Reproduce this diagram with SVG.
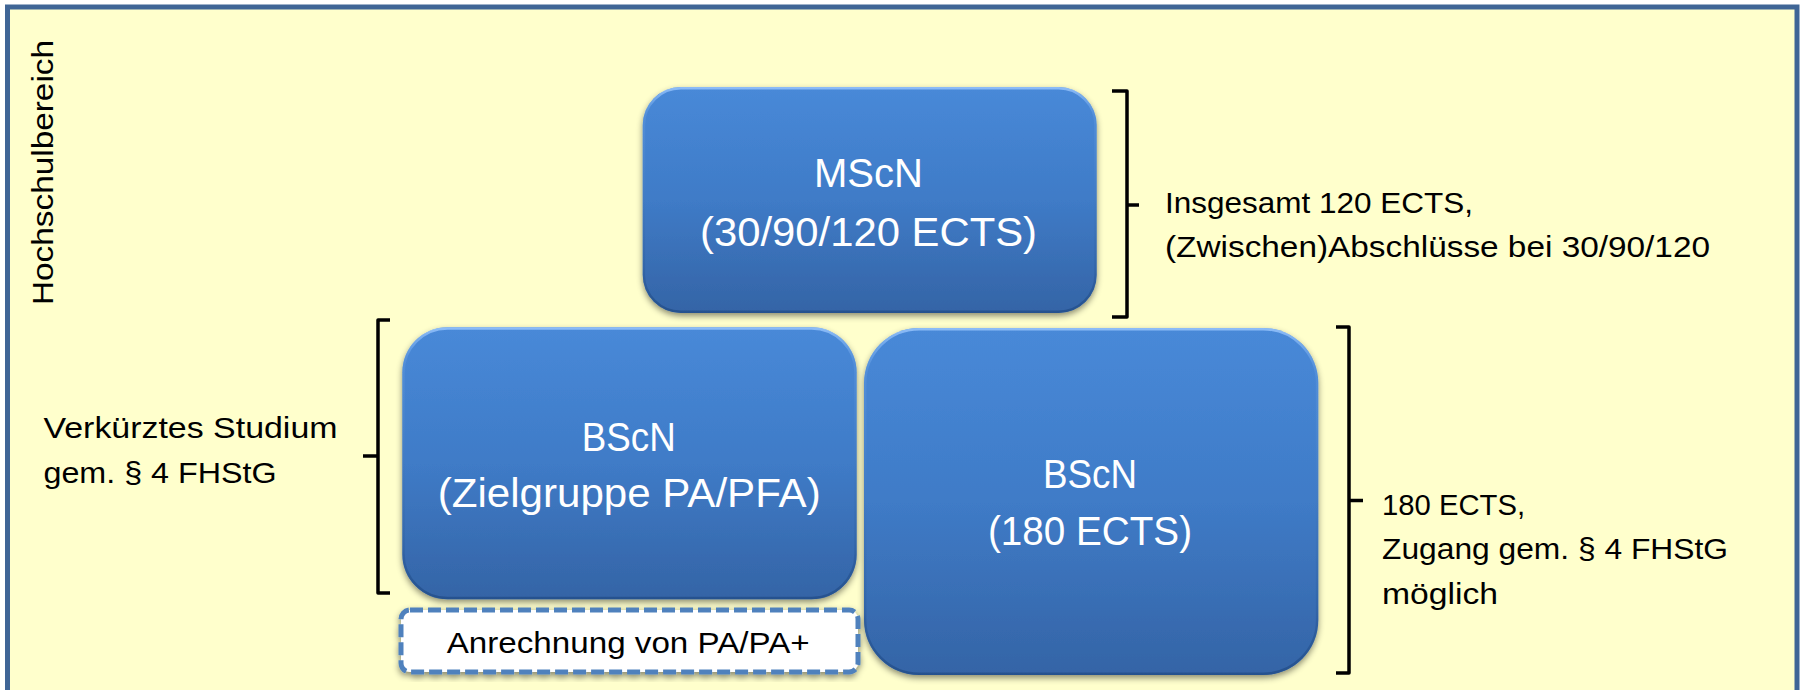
<svg xmlns="http://www.w3.org/2000/svg" width="1803" height="690" viewBox="0 0 1803 690">
  <defs>
    <linearGradient id="boxFill" x1="0" y1="0" x2="0" y2="1">
      <stop offset="0" stop-color="#4889D8"/>
      <stop offset="0.5" stop-color="#3F7BC7"/>
      <stop offset="1" stop-color="#3464A6"/>
    </linearGradient>
    <linearGradient id="bevel" x1="0" y1="0" x2="0" y2="1">
      <stop offset="0" stop-color="#9CC8FF" stop-opacity="0.8"/>
      <stop offset="0.12" stop-color="#7FB2F0" stop-opacity="0.2"/>
      <stop offset="0.8" stop-color="#1F4A85" stop-opacity="0.2"/>
      <stop offset="1" stop-color="#1F4A85" stop-opacity="0.7"/>
    </linearGradient>
    <filter id="shadow" x="-10%" y="-10%" width="120%" height="125%">
      <feDropShadow dx="0" dy="3" stdDeviation="3" flood-color="#000" flood-opacity="0.45"/>
    </filter>
    <style>
      .frame { fill: #FFFFCC; stroke: #3F6596; stroke-width: 5; }
      .box { fill: url(#boxFill); filter: url(#shadow); }
      .bev { fill: none; stroke: url(#bevel); stroke-width: 2.5; }
      .dash { fill: #FFFFFF; stroke: #4F81BD; stroke-width: 5; stroke-dasharray: 13 5; filter: url(#shadow); }
      .bt { font-family: "Liberation Sans", Arial, sans-serif; font-size: 40px; fill: #FFFFFF; }
      .st { font-family: "Liberation Sans", Arial, sans-serif; font-size: 29px; fill: #000000; }
      .lt { font-family: "Liberation Sans", Arial, sans-serif; font-size: 30px; fill: #000000; }
      .br { fill: none; stroke: #000000; stroke-width: 3.5; stroke-linejoin: round; }
    </style>
  </defs>

  <rect class="frame" x="7.5" y="7" width="1789.5" height="700"/>

  <text class="st" font-size="33" transform="translate(53,305) rotate(-90)" x="0" y="0" textLength="265" lengthAdjust="spacingAndGlyphs">Hochschulbereich</text>

  <g id="connectors">
    <path class="br" d="M1112,91 H1127 V317 H1112 M1127,205 H1139"/>
    <path class="br" d="M390,320 H378 V593 H390 M378,456 H363"/>
    <path class="br" d="M1336,327 H1349 V673 H1336 M1349,500.5 H1363"/>
  </g>

  <g id="node-mscn">
    <rect class="box" x="642.7" y="87" width="454" height="226" rx="38"/>
    <rect class="bev" x="643.9" y="88.2" width="451.6" height="223.6" rx="37"/>
    <text class="bt" x="814" y="187.3" textLength="109" lengthAdjust="spacingAndGlyphs">MScN</text>
    <text class="bt" x="700" y="245.5" textLength="337" lengthAdjust="spacingAndGlyphs">(30/90/120 ECTS)</text>
  </g>

  <g id="node-bscn-short">
    <rect class="box" x="402.3" y="327.3" width="454.4" height="272" rx="45"/>
    <rect class="bev" x="403.5" y="328.5" width="452" height="269.6" rx="44"/>
    <text class="bt" x="581.7" y="450.7" textLength="94" lengthAdjust="spacingAndGlyphs">BScN</text>
    <text class="bt" x="437.7" y="506.7" textLength="383" lengthAdjust="spacingAndGlyphs">(Zielgruppe PA/PFA)</text>
  </g>

  <g id="node-bscn-180">
    <rect class="box" x="864" y="328" width="454.3" height="347" rx="55"/>
    <rect class="bev" x="865.2" y="329.2" width="451.9" height="344.6" rx="54"/>
    <text class="bt" x="1043" y="488.3" textLength="94" lengthAdjust="spacingAndGlyphs">BScN</text>
    <text class="bt" x="988" y="545" textLength="204" lengthAdjust="spacingAndGlyphs">(180 ECTS)</text>
  </g>

  <g id="node-anrechnung">
    <rect class="dash" x="401" y="610" width="457" height="62" rx="9"/>
    <text class="lt" x="446.7" y="652.7" textLength="363" lengthAdjust="spacingAndGlyphs">Anrechnung von PA/PA+</text>
  </g>

  <g id="label-verkuerzt">
    <text class="st" x="43.5" y="438.3" textLength="294" lengthAdjust="spacingAndGlyphs">Verkürztes Studium</text>
    <text class="st" x="43.5" y="483.3" textLength="233" lengthAdjust="spacingAndGlyphs">gem. § 4 FHStG</text>
  </g>

  <g id="label-master">
    <text class="st" x="1165" y="213.3" textLength="308" lengthAdjust="spacingAndGlyphs">Insgesamt 120 ECTS,</text>
    <text class="st" x="1165" y="256.7" textLength="545" lengthAdjust="spacingAndGlyphs">(Zwischen)Abschlüsse bei 30/90/120</text>
  </g>

  <g id="label-bachelor">
    <text class="st" x="1382" y="515" textLength="143" lengthAdjust="spacingAndGlyphs">180 ECTS,</text>
    <text class="st" x="1382" y="559.3" textLength="346" lengthAdjust="spacingAndGlyphs">Zugang gem. § 4 FHStG</text>
    <text class="st" x="1382" y="604" textLength="116" lengthAdjust="spacingAndGlyphs">möglich</text>
  </g>
</svg>
